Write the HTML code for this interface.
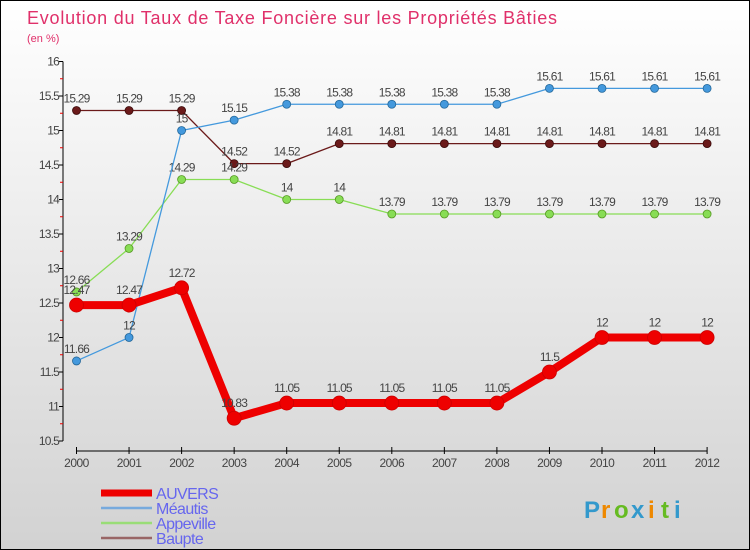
<!DOCTYPE html>
<html><head><meta charset="utf-8"><style>
body{margin:0;}
#c{width:748px;height:548px;border:1px solid #000;background:linear-gradient(#fff,#d2d2d2);position:relative;font-family:"DejaVu Sans","Liberation Sans",sans-serif;overflow:hidden}
svg{position:absolute;left:0;top:0}
</style></head><body>
<div id="c">
<svg id="s" width="750" height="550">
<text x="26" y="23" font-size="18" fill="#e0306a" font-family="Liberation Sans" textLength="530">Evolution du Taux de Taxe Foncière sur les Propriétés Bâties</text>
<text x="26" y="41" font-size="11" fill="#e0306a" font-family="Liberation Sans">(en %)</text>
<g id="g"></g>
</svg>
</div>
<script>
const years=[2000,2001,2002,2003,2004,2005,2006,2007,2008,2009,2010,2011,2012];
const auvers=[12.47,12.47,12.72,10.83,11.05,11.05,11.05,11.05,11.05,11.5,12,12,12];
const meautis=[11.66,12,15,15.15,15.38,15.38,15.38,15.38,15.38,15.61,15.61,15.61,15.61];
const appeville=[12.66,13.29,14.29,14.29,14,14,13.79,13.79,13.79,13.79,13.79,13.79,13.79];
const baupte=[15.29,15.29,15.29,14.52,14.52,14.81,14.81,14.81,14.81,14.81,14.81,14.81,14.81];
const yTicks=[10.5,11,11.5,12,12.5,13,13.5,14,14.5,15,15.5,16];
const NS="http://www.w3.org/2000/svg";
const g=document.getElementById('g');
const X=i=>75.5+i*52.55;
const Y=v=>440-(v-10.5)*69;
function mk(t,a,p){const e=document.createElementNS(NS,t);for(const k in a)e.setAttribute(k,a[k]);(p||g).appendChild(e);return e;}
let ax=mk('line',{x1:62,y1:Y(16),x2:62,y2:Y(10.5),stroke:'#000'});


let xa=mk('line',{x1:75,y1:450,x2:706,y2:450,stroke:'#000'});


yTicks.forEach((v,i)=>{
 mk('line',{x1:58,y1:Y(v),x2:62,y2:Y(v),stroke:'#000'});
 if(i<yTicks.length-1)mk('line',{x1:59,y1:Y(v+0.25),x2:62,y2:Y(v+0.25),stroke:'#e00'});
 const t=mk('text',{x:58,y:Y(v)+4,'font-size':12,'text-anchor':'end',fill:'#444','letter-spacing':'-0.8','font-family':'Liberation Sans'});
 t.textContent=String(v);
 
 
});
years.forEach((y,i)=>{
 mk('line',{x1:X(i),y1:446,x2:X(i),y2:453,stroke:'#000'});
 const t=mk('text',{x:X(i),y:466,'font-size':12,'text-anchor':'middle',fill:'#444','letter-spacing':'-0.5','font-family':'Liberation Sans'});
 t.textContent=y;
 
 
});
function series(vals,color,w,r,name,stroke){
 const pts=vals.map((v,i)=>X(i)+','+Y(v)).join(' ');
 const pl=mk('polyline',{points:pts,fill:'none',stroke:color,'stroke-width':w,'stroke-linejoin':'round'});
 
 
 vals.forEach((v,i)=>{
  const c=mk('circle',{cx:X(i),cy:Y(v),r:r,fill:color,stroke:stroke,'stroke-width':0.8});
  
  
  const t=mk('text',{x:X(i),y:Y(v)-(r+4),'font-size':12,'text-anchor':'middle',fill:'#444','letter-spacing':'-0.8','font-family':'Liberation Sans'});
  t.textContent=String(v);
  
  
 });
}
series(baupte,'#6b1a1a',1.3,4,'baupte','#3a0a0a');
series(appeville,'#88dd55',1.3,4,'appeville','#559922');
series(meautis,'#4499dd',1.3,4,'meautis','#226699');
series(auvers,'#ee0000',8,7,'auvers','#cc0000');
const leg=[['AUVERS','#ee0000',7],['Méautis','#77aadd',2.5],['Appeville','#99dd77',2.5],['Baupte','#996666',2.5]];
leg.forEach((l,i)=>{
 const y=492+i*15;
 const ln=mk('line',{x1:100,y1:y,x2:151,y2:y,stroke:l[1],'stroke-width':l[2]});
 
 
 const t=mk('text',{x:155,y:y+6,'font-size':16,fill:'#6666ee','letter-spacing':'-0.6','font-family':'Liberation Sans'});
 t.textContent=l[0];
 
 
});
const logo=[['P','#3399cc'],['r','#ee8800'],['o','#66bb22'],['x','#3399cc'],['i','#ee8800'],['t','#66bb22'],['i','#3399cc']];
let lx=583;
logo.forEach(([ch,c])=>{
 const t=mk('text',{x:lx,y:517,'font-size':24,'font-weight':'bold',fill:c,'font-family':'Liberation Sans'});
 t.textContent=ch;
 
 
 lx+= (ch==='i'||ch==='t'||ch==='r')?13:17;
});
</script>
</body></html>
